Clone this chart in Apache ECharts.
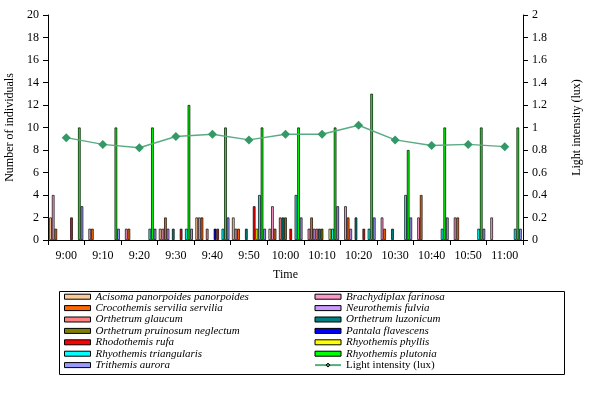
<!DOCTYPE html>
<html>
<head>
<meta charset="utf-8">
<script src="https://cdn.jsdelivr.net/npm/echarts@6/dist/echarts.min.js"></script>
<style>html,body{margin:0;padding:0;background:#fff;}#c{width:589px;height:394px;}</style>
</head>
<body>
<div id="c"></div>
<script>
const categories = ['9:00','9:10','9:20','9:30','9:40','9:50','10:00','10:10','10:20','10:30','10:40','10:50','11:00'];
const acisoma       = [2,0,0,1,2,2,1,0,0,0,0,0,0];
const brachydiplax  = [4,1,1,1,2,1,3,1,3,2,2,2,2];
const crocothemis   = [1,1,1,2,2,1,1,2,2,1,4,2,0];
const neurothemis   = [0,0,0,1,0,0,0,1,1,0,0,0,0];
const oGlaucum      = [0,0,0,0,1,0,2,1,0,0,0,0,0];
const oLuzonicum    = [0,0,0,1,0,1,2,1,2,1,0,0,0];
const oPruinosum    = [0,0,0,0,0,0,2,1,0,0,0,0,0];
const pantala       = [0,0,0,0,1,0,0,0,0,0,0,0,0];
const rhodothemis   = [2,0,0,1,1,3,1,0,1,0,0,0,0];
const rPhyllis      = [0,0,0,0,0,1,0,1,0,0,0,0,0];
const rTriangularis = [0,0,1,1,1,4,4,1,1,4,1,1,1];
const rPlutonia     = [10,10,10,12,10,10,10,10,13,8,10,10,10];
const trithemis     = [3,1,1,1,2,1,2,3,2,2,2,1,1];
const lightIntensity = [0.91,0.85,0.82,0.92,0.94,0.89,0.94,0.94,1.02,0.89,0.84,0.85,0.83];

const speciesNames = [
  'Acisoma panorpoides panorpoides','Brachydiplax farinosa','Crocothemis servilia servilia',
  'Neurothemis fulvia','Orthetrum glaucum','Orthetrum luzonicum','Orthetrum pruinosum neglectum',
  'Pantala flavescens','Rhodothemis rufa','Rhyothemis phyllis','Rhyothemis triangularis',
  'Rhyothemis plutonia','Trithemis aurora'
];
const speciesData = [acisoma,brachydiplax,crocothemis,neurothemis,oGlaucum,oLuzonicum,oPruinosum,
  pantala,rhodothemis,rPhyllis,rTriangularis,rPlutonia,trithemis];
const speciesColors = ['#FFCC99','#FF99CC','#FF6600','#CC99FF','#FF8080','#008080','#808000',
  '#0000FF','#FF0000','#FFFF00','#00FFFF','#00FF00','#9999FF'];
const lightName = 'Light intensity (lux)';

const FONT = 'Liberation Serif';
const chart = echarts.init(document.getElementById('c'), null, {renderer:'canvas'});

const series = speciesNames.map((n,i)=>({
  name:n, type:'bar', yAxisIndex:0,
  data: speciesData[i].map(v => v === 0 ? '-' : v),
  barGap:'0%', barCategoryGap:'7%',
  itemStyle:{color:speciesColors[i], borderColor:'#000', borderWidth:0.7},
  emphasis:{disabled:true}, animation:false
}));
series.push({
  name:lightName, type:'line', yAxisIndex:1, data:lightIntensity,
  symbol:'diamond', symbolSize:9,
  itemStyle:{color:'#339966'},
  lineStyle:{color:'#5aab84', width:1.5},
  animation:false
});

const leftItems = speciesNames.filter((_,i)=>i%2===0).map(n=>({name:n, icon:'rect'}));
const rightItems = speciesNames.filter((_,i)=>i%2===1).map(n=>({name:n, icon:'rect'}));
rightItems.push({name:lightName, textStyle:{fontStyle:'normal'}});

function legendAt(id, left, items){
  return {
    id:id, show:true, type:'plain',
    orient:'vertical', left:left, top:291, itemGap:0, itemWidth:26, itemHeight:5,
    padding:0,
    itemStyle:{borderColor:'#000', borderWidth:1},
    textStyle:{fontFamily:FONT, fontStyle:'italic', fontSize:11, color:'#000', lineHeight:11.4},
    selectedMode:false,
    data:items
  };
}

chart.setOption({
  animation:false,
  backgroundColor:'#fff',
  grid:{left:48, right:66, top:15, bottom:154, containLabel:false, outerBoundsMode:'none'},
  xAxis:{
    type:'category', data:categories, boundaryGap:true,
    name:'Time', nameLocation:'middle', nameGap:29,
    nameTextStyle:{fontFamily:FONT, fontSize:12, color:'#000'},
    axisLine:{lineStyle:{color:'#000', width:1}},
    axisTick:{show:true, length:5, lineStyle:{color:'#000'}},
    axisLabel:{fontFamily:FONT, fontSize:12, color:'#000', margin:10, interval:0},
    splitLine:{show:false}
  },
  yAxis:[{
    type:'value', min:0, max:20, interval:2, position:'left',
    name:'Number of individuals', nameLocation:'middle', nameGap:28,
    nameTextStyle:{fontFamily:FONT, fontSize:12, color:'#000'},
    axisLine:{show:true, lineStyle:{color:'#000', width:1}},
    axisTick:{show:true, length:5, lineStyle:{color:'#000'}},
    axisLabel:{fontFamily:FONT, fontSize:12, color:'#000', margin:9},
    splitLine:{show:false}
  },{
    type:'value', min:0, max:2, interval:0.2, position:'right',
    name:'Light intensity (lux)', nameLocation:'middle', nameGap:48,
    nameTextStyle:{fontFamily:FONT, fontSize:12, color:'#000'},
    axisLine:{show:true, lineStyle:{color:'#000', width:1}},
    axisTick:{show:true, length:5, lineStyle:{color:'#000'}},
    axisLabel:{fontFamily:FONT, fontSize:12, color:'#000', margin:9,
      formatter:v=>String(Math.round(v*10)/10)},
    splitLine:{show:false}
  }],
  legend:[ legendAt('legL', 64, leftItems), legendAt('legR', 314, rightItems) ],
  graphic:[{
    type:'rect', left:57, top:289, shape:{width:505, height:83},
    style:{fill:'none', stroke:'#000', lineWidth:1}, silent:true, z:-1
  }],
  series:series
});
</script>
</body>
</html>
